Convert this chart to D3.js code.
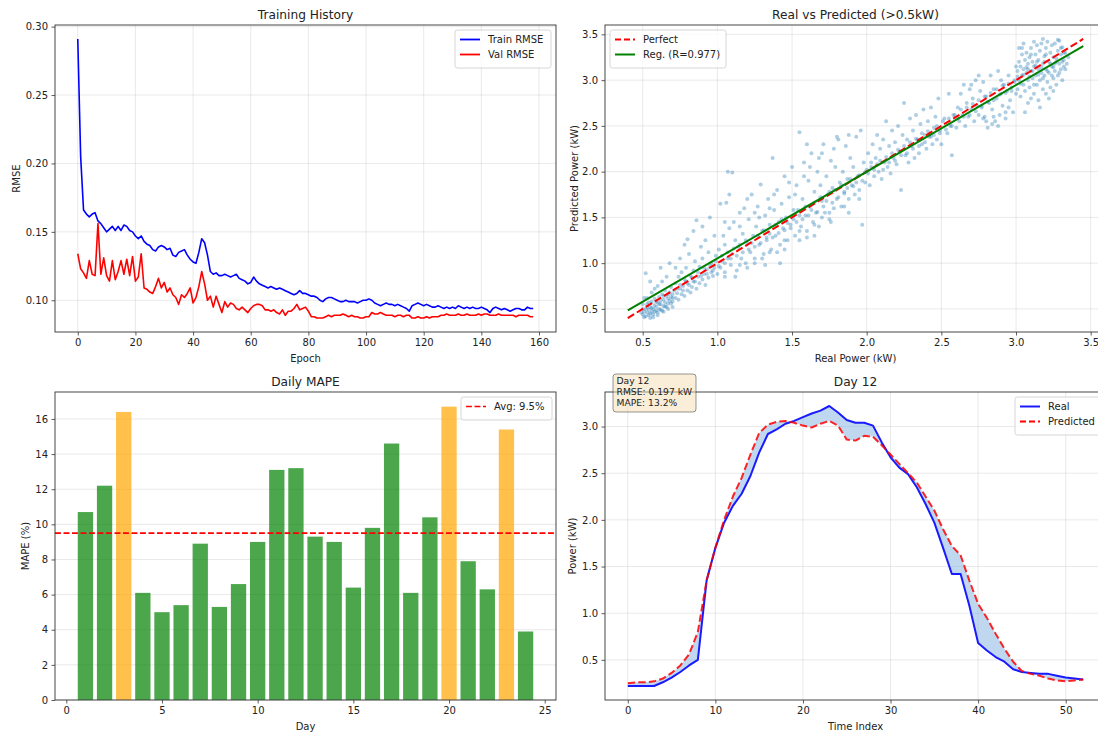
<!DOCTYPE html>
<html><head><meta charset="utf-8">
<script src="https://cdn.jsdelivr.net/npm/d3@7"></script>
<style>body{margin:0;background:#fff}svg text{font-family:"DejaVu Sans",sans-serif}</style>
</head><body>
<svg id="c" width="1098" height="733"></svg>
<script>
// ---------------- DATA ----------------
const trainRMSE = [
0.291,0.205,0.166,0.163,0.161,0.163,0.164,0.158,0.156,0.153,
0.150,0.152,0.154,0.151,0.154,0.151,0.155,0.154,0.151,0.150,
0.147,0.145,0.147,0.143,0.141,0.140,0.137,0.136,0.139,0.140,
0.139,0.137,0.138,0.133,0.132,0.135,0.136,0.137,0.133,0.130,
0.128,0.127,0.135,0.145,0.142,0.133,0.121,0.119,0.120,0.118,
0.118,0.119,0.118,0.117,0.118,0.119,0.116,0.115,0.114,0.112,
0.113,0.117,0.114,0.112,0.111,0.110,0.109,0.110,0.109,0.108,
0.109,0.108,0.107,0.106,0.105,0.104,0.105,0.107,0.105,0.105,
0.104,0.103,0.103,0.102,0.100,0.099,0.101,0.102,0.102,0.101,
0.100,0.099,0.099,0.100,0.099,0.099,0.099,0.098,0.099,0.100,
0.100,0.101,0.100,0.098,0.097,0.096,0.097,0.098,0.097,0.097,
0.096,0.097,0.096,0.095,0.094,0.092,0.096,0.097,0.098,0.097,
0.096,0.097,0.096,0.095,0.095,0.096,0.095,0.094,0.095,0.094,
0.095,0.094,0.096,0.095,0.094,0.095,0.094,0.095,0.094,0.094,
0.095,0.094,0.093,0.091,0.094,0.095,0.094,0.093,0.094,0.093,
0.092,0.093,0.094,0.094,0.093,0.093,0.095,0.094,0.094];
const valRMSE = [
0.134,0.123,0.120,0.116,0.129,0.119,0.118,0.156,0.119,0.131,
0.118,0.114,0.129,0.115,0.121,0.129,0.119,0.130,0.118,0.132,
0.114,0.117,0.134,0.109,0.108,0.106,0.105,0.110,0.116,0.109,
0.113,0.106,0.109,0.104,0.102,0.097,0.104,0.102,0.105,0.109,
0.098,0.102,0.110,0.121,0.112,0.100,0.103,0.095,0.103,0.097,
0.091,0.099,0.095,0.098,0.097,0.094,0.093,0.095,0.093,0.091,
0.094,0.096,0.097,0.097,0.096,0.093,0.093,0.092,0.093,0.091,
0.090,0.093,0.089,0.092,0.092,0.094,0.097,0.093,0.094,0.095,
0.092,0.088,0.088,0.087,0.087,0.087,0.088,0.089,0.088,0.089,
0.089,0.089,0.090,0.089,0.088,0.089,0.088,0.088,0.087,0.087,
0.088,0.088,0.091,0.090,0.090,0.091,0.090,0.089,0.089,0.089,
0.088,0.089,0.089,0.088,0.089,0.089,0.087,0.087,0.088,0.087,
0.087,0.088,0.087,0.088,0.088,0.088,0.089,0.089,0.090,0.089,
0.089,0.089,0.090,0.089,0.089,0.090,0.089,0.089,0.089,0.090,
0.089,0.090,0.090,0.089,0.089,0.089,0.090,0.089,0.089,0.089,
0.089,0.089,0.088,0.089,0.089,0.089,0.089,0.088,0.088];
const epochTicks = [0,20,40,60,80,100,120,140,160];
const rmseTicks = [0.10,0.15,0.20,0.25,0.30];

// scatter: [real kW, predicted kW]
const scatterPoints = [
[0.50,0.44],[0.51,0.47],[0.52,0.42],[0.52,0.50],[0.53,0.46],[0.53,0.55],[0.54,0.43],[0.54,0.49],[0.55,0.52],[0.55,0.45],
[0.56,0.58],[0.56,0.47],[0.57,0.50],[0.57,0.44],[0.58,0.54],[0.58,0.61],[0.59,0.48],[0.59,0.52],[0.60,0.57],[0.60,0.46],
[0.61,0.63],[0.61,0.50],[0.62,0.55],[0.62,0.59],[0.63,0.48],[0.63,0.66],[0.64,0.53],[0.64,0.60],[0.65,0.57],[0.65,0.70],
[0.66,0.52],[0.66,0.64],[0.67,0.61],[0.67,0.56],[0.68,0.68],[0.68,0.59],[0.69,0.63],[0.69,0.74],[0.70,0.58],[0.70,0.66],
[0.52,0.89],[0.55,0.80],[0.58,0.72],[0.51,0.62],[0.50,0.55],[0.53,0.62],[0.56,0.68],[0.60,0.75],[0.63,0.80],[0.66,0.85],
[0.62,0.95],[0.68,1.00],[0.55,0.40],[0.57,0.41],[0.60,0.43],[0.64,0.47],[0.67,0.50],[0.70,0.52],
[0.49,0.46],[0.50,0.50],[0.51,0.41],[0.53,0.52],[0.54,0.57],[0.56,0.51],[0.58,0.47],[0.59,0.58],[0.61,0.55],[0.62,0.49],
[0.64,0.64],[0.65,0.53],[0.67,0.66],[0.69,0.56],[0.70,0.62],
[0.71,0.70],[0.72,0.62],[0.72,0.78],[0.73,0.67],[0.74,0.85],[0.74,0.60],[0.75,0.72],[0.76,0.90],[0.76,0.66],[0.77,0.75],
[0.78,0.64],[0.78,0.82],[0.79,0.95],[0.80,0.70],[0.80,0.78],[0.81,1.10],[0.82,0.68],[0.82,0.86],[0.83,0.74],[0.84,0.92],
[0.84,0.80],[0.85,1.02],[0.86,0.72],[0.86,1.47],[0.87,0.85],[0.88,0.78],[0.88,0.96],[0.89,1.18],[0.90,0.82],[0.90,1.05],
[0.91,0.88],[0.92,0.76],[0.92,1.25],[0.93,0.93],[0.94,0.84],[0.94,1.12],[0.95,1.50],[0.96,0.90],[0.96,1.00],[0.97,0.86],
[0.98,1.30],[0.98,0.95],[0.99,1.08],[1.00,0.88],[0.75,1.05],[0.78,1.20],[0.80,1.26],[0.84,1.35],[0.90,1.40],[0.72,0.95],
[0.73,0.72],[0.75,0.76],[0.77,0.70],[0.79,0.80],[0.81,0.76],[0.83,0.84],[0.85,0.80],[0.87,0.90],[0.89,0.86],[0.91,0.95],
[0.93,0.88],[0.95,0.97],[0.97,0.92],[0.99,1.02],
[1.01,1.15],[1.02,0.95],[1.02,1.65],[1.03,1.02],[1.04,1.30],[1.05,0.90],[1.05,1.20],[1.06,1.66],[1.07,1.05],[1.07,2.00],
[1.08,1.38],[1.09,0.98],[1.10,1.10],[1.10,1.99],[1.11,1.45],[1.12,1.25],[1.13,0.92],[1.14,1.18],[1.15,1.55],[1.16,1.05],
[1.17,1.32],[1.18,1.60],[1.19,1.00],[1.20,1.22],[1.21,1.48],[1.22,1.12],[1.23,1.75],[1.24,1.30],[1.25,1.05],[1.26,1.40],
[1.27,1.62],[1.28,1.20],[1.29,1.86],[1.30,1.35],[1.31,1.10],[1.32,1.52],[1.33,1.28],[1.34,1.70],[1.35,1.42],[1.36,1.15],
[1.37,2.15],[1.38,1.58],[1.39,1.30],[1.40,1.80],[1.41,1.45],[1.42,1.20],[1.43,1.65],[1.44,1.38],[1.45,1.95],[1.46,1.50],
[1.47,1.25],[1.48,1.72],[1.49,1.42],[1.50,2.05],[1.12,0.85],[1.20,0.95],[1.30,1.05],[1.40,1.12],[1.45,1.15],[1.25,1.55],
[1.35,1.60],[1.15,1.40],[1.05,1.45],[1.32,0.98],[1.42,1.00],
[1.01,0.97],[1.03,1.08],[1.05,1.00],[1.07,1.12],[1.09,1.05],[1.11,1.16],[1.13,1.08],[1.15,1.20],[1.17,1.12],[1.19,1.25],
[1.21,1.15],[1.23,1.22],[1.25,1.18],[1.27,1.30],[1.29,1.22],[1.31,1.36],[1.33,1.25],[1.35,1.32],[1.37,1.28],[1.39,1.42],
[1.41,1.33],[1.43,1.48],[1.45,1.36],[1.47,1.44],[1.49,1.38],[1.15,0.98],[1.25,1.00],[1.35,1.12],[1.45,1.25],[1.05,0.85],
[1.08,1.75],[1.20,1.70],[1.28,1.50],[1.38,1.75],[1.48,1.88],
[1.51,1.48],[1.52,1.30],[1.53,1.85],[1.54,1.58],[1.55,2.43],[1.56,1.40],[1.57,1.70],[1.58,2.10],[1.59,1.52],[1.60,1.35],
[1.61,1.90],[1.62,1.62],[1.63,2.20],[1.64,1.45],[1.65,1.78],[1.66,1.55],[1.67,2.00],[1.68,1.40],[1.69,1.85],[1.70,1.68],
[1.71,2.30],[1.72,1.55],[1.73,1.95],[1.74,1.75],[1.75,1.48],[1.76,2.12],[1.77,1.82],[1.78,1.60],[1.79,2.05],[1.80,1.70],
[1.81,2.35],[1.82,1.88],[1.83,1.62],[1.84,2.00],[1.85,1.78],[1.86,2.28],[1.87,1.92],[1.88,1.70],[1.89,2.15],[1.90,1.85],
[1.91,2.05],[1.92,1.75],[1.93,2.38],[1.94,1.95],[1.95,1.80],[1.96,2.45],[1.97,1.42],[1.98,2.10],[1.99,1.88],[2.00,2.02],
[1.60,2.30],[1.70,2.20],[1.80,2.38],[1.88,1.55],[1.76,1.45],[1.65,1.30],[1.55,1.25],
[1.51,1.58],[1.53,1.45],[1.55,1.52],[1.57,1.48],[1.59,1.62],[1.61,1.52],[1.63,1.58],[1.65,1.66],[1.67,1.56],[1.69,1.72],
[1.71,1.62],[1.73,1.68],[1.75,1.78],[1.77,1.66],[1.79,1.80],[1.81,1.72],[1.83,1.85],[1.85,1.76],[1.87,1.82],[1.89,1.92],
[1.91,1.84],[1.93,1.88],[1.95,1.96],[1.97,1.90],[1.99,2.00],[1.55,1.35],[1.65,1.42],[1.75,1.55],[1.85,1.62],[1.95,1.70],
[1.60,1.28],[1.70,1.50],[1.58,1.95],[1.68,2.15],[1.78,2.25],[1.88,2.40],[1.62,2.05],[1.52,1.75],
[2.01,2.20],[2.02,1.85],[2.03,2.05],[2.04,2.30],[2.05,1.95],[2.06,2.15],[2.07,2.40],[2.08,2.00],[2.09,2.25],[2.10,1.92],
[2.11,2.35],[2.12,2.10],[2.13,2.55],[2.14,2.05],[2.15,2.28],[2.16,1.98],[2.17,2.45],[2.18,2.15],[2.19,2.32],[2.20,2.08],
[2.21,2.50],[2.22,2.22],[2.23,1.80],[2.24,2.40],[2.25,2.75],[2.26,2.18],[2.27,2.35],[2.28,2.10],[2.29,2.58],[2.30,2.28],
[2.31,2.45],[2.32,2.15],[2.33,2.62],[2.34,2.35],[2.35,2.20],[2.36,2.52],[2.37,2.30],[2.38,2.68],[2.39,2.40],[2.40,2.25],
[2.41,2.55],[2.42,2.38],[2.43,2.70],[2.44,2.30],[2.45,2.48],[2.46,2.60],[2.47,2.35],[2.48,2.80],[2.49,2.45],[2.50,2.30],
[2.52,2.58],[2.54,2.42],[2.55,2.85],[2.56,2.50],[2.57,2.18],[2.58,2.62],[2.60,2.48],
[2.01,1.98],[2.03,2.10],[2.05,2.02],[2.07,2.08],[2.09,2.12],[2.11,2.02],[2.13,2.16],[2.15,2.10],[2.17,2.20],[2.19,2.12],
[2.21,2.24],[2.23,2.18],[2.25,2.28],[2.27,2.20],[2.29,2.32],[2.31,2.25],[2.33,2.36],[2.35,2.28],[2.37,2.42],[2.39,2.32],
[2.41,2.44],[2.43,2.38],[2.45,2.40],[2.47,2.50],[2.49,2.42],[2.51,2.55],[2.53,2.46],[2.55,2.58],[2.57,2.50],[2.59,2.62],
[2.61,2.70],[2.62,2.55],[2.63,2.85],[2.64,2.62],[2.65,2.95],[2.66,2.50],[2.67,2.75],[2.68,2.60],[2.69,2.90],[2.70,2.68],
[2.71,2.80],[2.72,2.55],[2.73,3.00],[2.74,2.72],[2.75,2.62],[2.76,2.88],[2.77,2.70],[2.78,2.98],[2.79,2.60],[2.80,2.82],
[2.81,2.48],[2.82,2.75],[2.83,3.05],[2.84,2.68],[2.85,2.90],[2.86,2.55],[2.87,2.80],[2.88,3.10],[2.89,2.62],[2.90,2.85],
[2.91,2.72],[2.92,2.95],[2.93,2.58],[2.94,2.88],[2.95,3.05],[2.96,2.78],[2.97,2.92],[2.98,2.65],[2.99,3.00],[3.00,2.85],
[2.70,2.95],[2.75,3.05],[2.80,2.55],[2.85,2.60],[2.90,3.00],[2.95,2.70],[2.88,2.50],[2.93,2.65],[2.84,2.52],[2.78,2.58],
[2.61,2.58],[2.63,2.68],[2.65,2.60],[2.67,2.70],[2.69,2.62],[2.71,2.74],[2.73,2.66],[2.75,2.78],[2.77,2.72],[2.79,2.82],
[2.81,2.76],[2.83,2.86],[2.85,2.78],[2.87,2.90],[2.89,2.84],[2.91,2.94],[2.93,2.86],[2.95,2.96],[2.97,2.88],[2.99,2.98],
[3.01,3.10],[3.01,2.90],[3.02,3.20],[3.02,3.00],[3.03,2.82],[3.03,3.15],[3.04,3.05],[3.04,3.28],[3.05,2.95],[3.05,3.12],
[3.06,3.22],[3.06,2.88],[3.07,3.08],[3.07,3.30],[3.08,3.00],[3.08,3.18],[3.09,2.92],[3.09,3.25],[3.10,3.10],[3.10,3.35],
[3.11,3.02],[3.11,3.20],[3.12,2.85],[3.12,3.15],[3.13,3.28],[3.13,3.05],[3.14,3.38],[3.14,2.95],[3.15,3.12],[3.15,3.22],
[3.16,3.00],[3.16,3.32],[3.17,3.08],[3.17,3.40],[3.18,2.90],[3.18,3.18],[3.19,3.26],[3.19,3.05],[3.20,3.35],[3.20,3.12],
[3.21,2.98],[3.21,3.42],[3.22,3.20],[3.22,3.08],[3.23,3.30],[3.23,2.92],[3.24,3.15],[3.24,3.38],[3.25,3.02],[3.25,3.25],
[3.26,3.10],[3.26,3.40],[3.27,3.20],[3.27,2.95],[3.28,3.32],[3.28,3.05],[3.29,3.18],[3.29,3.43],[3.30,3.12],[3.30,3.28],
[3.31,3.00],[3.31,3.36],[3.32,3.22],[3.32,3.15],[3.33,3.30],[3.34,3.18],[3.35,3.25],[3.05,3.40],[3.10,2.80],[3.15,2.78],
[3.20,2.85],[3.25,2.88],[3.12,3.42],[3.18,3.45],[3.22,2.80],[3.08,2.75],[3.02,3.35],[3.28,3.44],[3.16,2.70],[3.06,2.65],
[3.01,3.04],[3.03,2.96],[3.05,3.06],[3.07,3.14],[3.09,3.04],[3.11,3.10],[3.13,3.16],[3.15,3.06],[3.17,3.14],[3.19,3.20],
[3.21,3.10],[3.23,3.18],[3.25,3.14],[3.27,3.24],[3.29,3.08],[3.31,3.20],[3.33,3.12],[3.00,3.15],[3.04,3.35],[3.10,3.28],
[3.14,3.20],[3.20,3.28],[3.24,3.05],[3.26,3.18],[3.30,3.35],[3.32,3.30],[3.18,3.02],[3.12,2.95],[3.08,3.12]];
const perfectRange = [0.40, 3.45];
const regSlope = 0.947, regIntercept = 0.105, regR = 0.977;
const powerTicks = [0.5,1.0,1.5,2.0,2.5,3.0,3.5];

const days = [1,2,3,4,5,6,7,8,9,10,11,12,13,14,15,16,17,18,19,20,21,22,23,24];
const dailyMAPE = [10.7,12.2,16.4,6.1,5.0,5.4,8.9,5.3,6.6,9.0,13.1,13.2,9.3,9.0,6.4,9.8,14.6,6.1,10.4,16.7,7.9,6.3,15.4,3.9];
const mapeThreshold = 15;
const avgMAPE = 9.5;
const dayTicks = [0,5,10,15,20,25];
const mapeTicks = [0,2,4,6,8,10,12,14,16];

const dayReal = [0.22,0.22,0.22,0.22,0.26,0.31,0.37,0.44,0.50,1.35,
1.70,1.97,2.15,2.28,2.47,2.72,2.92,2.97,3.03,3.06,
3.10,3.14,3.17,3.22,3.15,3.07,3.04,3.04,3.01,2.83,
2.67,2.56,2.49,2.35,2.17,1.97,1.70,1.42,1.42,1.08,
0.68,0.60,0.53,0.48,0.40,0.37,0.36,0.35,0.35,0.33,
0.31,0.30,0.29];
const dayPred = [0.25,0.26,0.26,0.27,0.30,0.36,0.44,0.56,0.80,1.35,
1.70,2.00,2.25,2.45,2.70,2.93,3.02,3.05,3.06,3.04,
3.01,2.99,3.03,3.06,3.01,2.86,2.85,2.90,2.89,2.80,
2.70,2.60,2.50,2.40,2.25,2.10,1.90,1.72,1.62,1.35,
1.10,0.95,0.78,0.62,0.48,0.38,0.35,0.33,0.30,0.28,
0.27,0.28,0.29];
const timeTicks = [0,10,20,30,40,50];
const dayPowerTicks = [0.5,1.0,1.5,2.0,2.5,3.0];
const dayInfo = ["Day 12", "RMSE: 0.197 kW", "MAPE: 13.2%"];

// ---------------- HELPERS ----------------
const svg = d3.select('#c');
const FS = 10, TFS = 12.2;
function pad(lo, hi, f = 0.05) { const r = hi - lo; return [lo - r * f, hi + r * f]; }
const COLS = [{x0: 55, x1: 556}, {x0: 605, x1: 1106}];
const ROWS = [{y0: 25, y1: 332}, {y0: 392, y1: 700}];
let clipId = 0;

function makePanel(col, row, xDom, yDom) {
  const b = {x0: COLS[col].x0, x1: COLS[col].x1, y0: ROWS[row].y0, y1: ROWS[row].y1};
  const x = d3.scaleLinear().domain(xDom).range([b.x0, b.x1]);
  const y = d3.scaleLinear().domain(yDom).range([b.y1, b.y0]);
  const id = 'clip' + (clipId++);
  svg.append('clipPath').attr('id', id).append('rect')
    .attr('x', b.x0).attr('y', b.y0).attr('width', b.x1 - b.x0).attr('height', b.y1 - b.y0);
  const grid = svg.append('g');
  const data = svg.append('g').attr('clip-path', `url(#${id})`);
  const over = svg.append('g');
  return {b, x, y, grid, data, over};
}

function gridLines(p, xt, yt) {
  if (xt) p.grid.selectAll(null).data(xt.filter(d => p.x(d) >= p.b.x0 && p.x(d) <= p.b.x1)).join('line')
    .attr('x1', d => p.x(d)).attr('x2', d => p.x(d)).attr('y1', p.b.y0).attr('y2', p.b.y1)
    .attr('stroke', '#b0b0b0').attr('stroke-opacity', 0.35).attr('stroke-width', 0.8);
  if (yt) p.grid.selectAll(null).data(yt).join('line')
    .attr('y1', d => p.y(d)).attr('y2', d => p.y(d)).attr('x1', p.b.x0).attr('x2', p.b.x1)
    .attr('stroke', '#b0b0b0').attr('stroke-opacity', 0.35).attr('stroke-width', 0.8);
}

function axes(p, xt, yt, xf, yf, title, xl, yl, ylx) {
  const b = p.b;
  p.over.append('rect').attr('x', b.x0).attr('y', b.y0).attr('width', b.x1 - b.x0).attr('height', b.y1 - b.y0)
    .attr('fill', 'none').attr('stroke', '#333').attr('stroke-width', 0.9);
  const ax = p.over.append('g').attr('transform', `translate(0,${b.y1})`)
    .call(d3.axisBottom(p.x).tickValues(xt).tickFormat(xf).tickSize(3.5).tickPadding(3.5));
  const ay = p.over.append('g').attr('transform', `translate(${b.x0},0)`)
    .call(d3.axisLeft(p.y).tickValues(yt).tickFormat(yf).tickSize(3.5).tickPadding(3.5));
  [ax, ay].forEach(a => {
    a.select('.domain').remove();
    a.selectAll('text').attr('font-size', FS).attr('fill', '#222').attr('font-family', '"DejaVu Sans",sans-serif');
    a.selectAll('line').attr('stroke', '#333').attr('stroke-width', 0.8);
  });
  const cx = (b.x0 + b.x1) / 2, cy = (b.y0 + b.y1) / 2;
  p.over.append('text').attr('x', cx).attr('y', b.y0 - 6).attr('text-anchor', 'middle')
    .attr('font-size', TFS).attr('fill', '#222').text(title);
  p.over.append('text').attr('x', cx).attr('y', b.y1 + 30).attr('text-anchor', 'middle')
    .attr('font-size', FS).attr('fill', '#222').text(xl);
  p.over.append('text').attr('transform', `translate(${ylx},${cy}) rotate(-90)`).attr('text-anchor', 'middle')
    .attr('font-size', FS).attr('fill', '#222').text(yl);
}

function legend(p, x, y, w, items) {
  const h = 8 + items.length * 15;
  p.over.append('rect').attr('x', x).attr('y', y).attr('width', w).attr('height', h).attr('rx', 2.5)
    .attr('fill', '#fff').attr('fill-opacity', 0.8).attr('stroke', '#cccccc').attr('stroke-width', 0.8);
  items.forEach((it, i) => {
    const cy = y + 9.5 + i * 15;
    p.over.append('line').attr('x1', x + 5).attr('x2', x + 25).attr('y1', cy).attr('y2', cy)
      .attr('stroke', it.color).attr('stroke-width', it.lw || 2).attr('stroke-dasharray', it.dash || null);
    p.over.append('text').attr('x', x + 33).attr('y', cy + 3.6).attr('font-size', FS).attr('fill', '#222').text(it.label);
  });
}

// ---------------- PANEL 1: Training History ----------------
{
  const ext = d3.extent(trainRMSE.concat(valRMSE));
  const p = makePanel(0, 0, pad(0, trainRMSE.length - 1), pad(ext[0], ext[1]));
  gridLines(p, epochTicks, rmseTicks);
  const line = arr => d3.line().x((d, i) => p.x(i)).y(d => p.y(d))(arr);
  p.data.append('path').attr('d', line(trainRMSE)).attr('fill', 'none').attr('stroke', '#0000ff').attr('stroke-width', 1.6).attr('stroke-linejoin', 'round');
  p.data.append('path').attr('d', line(valRMSE)).attr('fill', 'none').attr('stroke', '#ff0000').attr('stroke-width', 1.6).attr('stroke-linejoin', 'round');
  axes(p, epochTicks, rmseTicks, d3.format('d'), d3.format('.2f'), 'Training History', 'Epoch', 'RMSE', 19.5);
  legend(p, 455, 30, 96, [{label: 'Train RMSE', color: '#0000ff', lw: 1.8}, {label: 'Val RMSE', color: '#ff0000', lw: 1.8}]);
}

// ---------------- PANEL 2: Real vs Predicted ----------------
{
  const dom = pad(perfectRange[0], perfectRange[1]);
  const p = makePanel(1, 0, dom, dom);
  gridLines(p, powerTicks, powerTicks);
  p.data.selectAll(null).data(scatterPoints).join('circle')
    .attr('cx', d => p.x(d[0])).attr('cy', d => p.y(d[1])).attr('r', 2.0)
    .attr('fill', '#1f77b4').attr('fill-opacity', 0.36);
  p.data.append('line').attr('x1', p.x(perfectRange[0])).attr('y1', p.y(perfectRange[0]))
    .attr('x2', p.x(perfectRange[1])).attr('y2', p.y(perfectRange[1]))
    .attr('stroke', '#ff0000').attr('stroke-width', 2).attr('stroke-dasharray', '7.4,3.2');
  p.data.append('line').attr('x1', p.x(perfectRange[0])).attr('y1', p.y(regSlope * perfectRange[0] + regIntercept))
    .attr('x2', p.x(perfectRange[1])).attr('y2', p.y(regSlope * perfectRange[1] + regIntercept))
    .attr('stroke', '#008000').attr('stroke-width', 2);
  axes(p, powerTicks, powerTicks, d3.format('.1f'), d3.format('.1f'), 'Real vs Predicted (>0.5kW)', 'Real Power (kW)', 'Predicted Power (kW)', 577.5);
  legend(p, 610, 30, 116, [{label: 'Perfect', color: '#ff0000', dash: '6,3'}, {label: `Reg. (R=${regR})`, color: '#008000'}]);
}

// ---------------- PANEL 3: Daily MAPE ----------------
{
  const barW = 0.8;
  const p = makePanel(0, 1, pad(days[0] - barW / 2, days[days.length - 1] + barW / 2), [0, d3.max(dailyMAPE) * 1.05]);
  gridLines(p, null, mapeTicks);
  p.data.selectAll(null).data(days).join('rect')
    .attr('x', (d) => p.x(d - barW / 2)).attr('width', (d) => p.x(d + barW / 2) - p.x(d - barW / 2))
    .attr('y', (d, i) => p.y(dailyMAPE[i])).attr('height', (d, i) => p.y(0) - p.y(dailyMAPE[i]))
    .attr('fill', (d, i) => dailyMAPE[i] > mapeThreshold ? '#ffa500' : '#008000')
    .attr('fill-opacity', 0.7);
  p.data.append('line').attr('x1', p.b.x0).attr('x2', p.b.x1).attr('y1', p.y(avgMAPE)).attr('y2', p.y(avgMAPE))
    .attr('stroke', '#ff0000').attr('stroke-width', 1.6).attr('stroke-dasharray', '5.9,2.6');
  axes(p, dayTicks, mapeTicks, d3.format('d'), d3.format('d'), 'Daily MAPE', 'Day', 'MAPE (%)', 28.5);
  legend(p, 461, 397, 91, [{label: `Avg: ${avgMAPE}%`, color: '#ff0000', dash: '5.9,2.6', lw: 1.6}]);
}

// ---------------- PANEL 4: Day 12 ----------------
{
  const ext = d3.extent(dayReal.concat(dayPred));
  const p = makePanel(1, 1, pad(0, dayReal.length - 1), pad(ext[0], ext[1]));
  gridLines(p, timeTicks, dayPowerTicks);
  p.data.append('path')
    .attr('d', d3.area().x((d, i) => p.x(i)).y0((d, i) => p.y(dayPred[i])).y1(d => p.y(d))(dayReal))
    .attr('fill', '#7fb0e0').attr('fill-opacity', 0.5);
  p.data.append('path').attr('d', d3.line().x((d, i) => p.x(i)).y(d => p.y(d))(dayReal))
    .attr('fill', 'none').attr('stroke', '#1a1aff').attr('stroke-width', 2).attr('stroke-linejoin', 'round');
  p.data.append('path').attr('d', d3.line().x((d, i) => p.x(i)).y(d => p.y(d))(dayPred))
    .attr('fill', 'none').attr('stroke', '#ff0000').attr('stroke-opacity', 0.85).attr('stroke-width', 2)
    .attr('stroke-dasharray', '7.4,3.2').attr('stroke-linejoin', 'round');
  axes(p, timeTicks, dayPowerTicks, d3.format('d'), d3.format('.1f'), 'Day 12', 'Time Index', 'Power (kW)', 575.5);
  legend(p, 1015, 397, 100, [{label: 'Real', color: '#1a1aff'}, {label: 'Predicted', color: '#ff0000', dash: '6,3'}]);
  const bx = 613, by = 374;
  p.over.append('rect').attr('x', bx).attr('y', by).attr('width', 83).attr('height', 38).attr('rx', 3)
    .attr('fill', '#f5deb3').attr('fill-opacity', 0.5).attr('stroke', '#000').attr('stroke-opacity', 0.45).attr('stroke-width', 0.9);
  dayInfo.forEach((t, i) => p.over.append('text').attr('x', bx + 3.5).attr('y', by + 10 + i * 10.8)
    .attr('font-size', 9.2).attr('fill', '#222').text(t));
}
</script>
</body></html>
